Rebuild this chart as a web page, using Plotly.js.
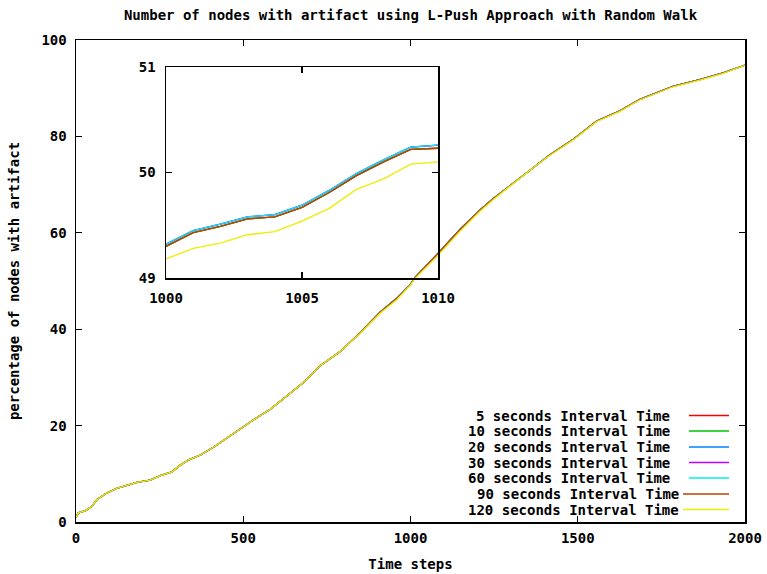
<!DOCTYPE html>
<html>
<head>
<meta charset="utf-8">
<script src="https://cdn.plot.ly/plotly-3.0.1.min.js"></script>
<style>html,body{margin:0;padding:0;background:#fff;}#chart{width:767px;height:574px;}</style>
</head>
<body>
<div id="chart"></div>
<script>
// ---- data ----
const seriesNames = [
  "5 seconds Interval Time",
  "10 seconds Interval Time",
  "20 seconds Interval Time",
  "30 seconds Interval Time",
  "60 seconds Interval Time",
  "90 seconds Interval Time",
  "120 seconds Interval Time"
];
const seriesColors = ["#ff0000", "#00c000", "#0080ff", "#c000ff", "#00eeee", "#c04000", "#eeee00"];

// main plot: time steps
const mainX = [0, 7, 27, 47, 62, 92, 122, 157, 182, 222, 252, 287, 312, 337, 372, 411, 451, 499, 531, 581,
  631, 681, 730, 789, 849, 909, 959, 1000, 1013, 1078, 1148, 1207, 1248, 1307, 1357, 1417, 1487, 1557,
  1626, 1686, 1785, 1865, 1935, 2000];
// 120 s curve (drawn on top, yellow)
const mainY120 = [1.0, 1.9, 2.3, 3.2, 4.6, 6.0, 7.0, 7.7, 8.2, 8.7, 9.6, 10.4, 11.8, 12.9, 13.9, 15.5, 17.4, 19.8, 21.2, 23.4,
  26.3, 29.0, 32.4, 35.3, 39.1, 43.3, 46.1, 49.2, 50.5, 55.0, 60.3, 64.4, 66.9, 70.2, 73.0, 76.1, 79.3, 83.1,
  85.2, 87.6, 90.3, 91.7, 93.1, 94.8];
// other intervals (nearly identical, slightly higher around t=900..1300)
const mainYOthers = [1.0, 1.9, 2.3, 3.2, 4.6, 6.0, 7.0, 7.7, 8.2, 8.7, 9.6, 10.4, 11.8, 12.9, 13.9, 15.5, 17.4, 19.8, 21.2, 23.4,
  26.3, 29.0, 32.4, 35.3, 39.2, 43.5, 46.4, 49.3, 50.7, 55.4, 60.7, 64.7, 67.1, 70.3, 73.1, 76.2, 79.4, 83.2,
  85.3, 87.7, 90.4, 91.8, 93.2, 94.8];

// inset: zoom on t = 1000..1010
const insetX = [1000, 1001, 1002, 1003, 1004, 1005, 1006, 1007, 1008, 1009, 1010];
const insetYUpper = [49.32, 49.45, 49.51, 49.58, 49.60, 49.69, 49.83, 49.99, 50.12, 50.24, 50.26]; // 20, 30, 60 s
const insetYLower = [49.30, 49.43, 49.49, 49.56, 49.58, 49.67, 49.81, 49.97, 50.10, 50.22, 50.23]; // 5, 10, 90 s
const insetY120 = [49.18, 49.28, 49.33, 49.41, 49.44, 49.54, 49.66, 49.84, 49.94, 50.08, 50.10];     // 120 s

const mainTicksX = [0, 500, 1000, 1500, 2000];
const mainTicksY = [0, 20, 40, 60, 80, 100];
const insetTicksX = [1000, 1005, 1010];
const insetTicksY = [49, 50, 51];

// ---- build ----
const FONT = {family: "DejaVu Sans Mono, monospace", size: 14, color: "#000", weight: 700};
const upperGroup = [false, false, true, true, true, false, false];
const traces = [];
seriesNames.forEach((n, i) => {
  traces.push({
    x: mainX, y: (i === 6 ? mainY120 : mainYOthers), type: "scatter", mode: "lines",
    name: n, line: {color: seriesColors[i], width: 1.3}, showlegend: false, xaxis: "x", yaxis: "y"
  });
});
seriesNames.forEach((n, i) => {
  traces.push({
    x: insetX, y: (i === 6 ? insetY120 : (upperGroup[i] ? insetYUpper : insetYLower)), type: "scatter", mode: "lines",
    name: n, line: {color: seriesColors[i], width: 1.3}, showlegend: false, xaxis: "x2", yaxis: "y2"
  });
});

// plot area in pixels
const L = 76, R = 745, T = 40, B = 522, W = 767, H = 574;
const px2x = p => (p - L) / (R - L);
const px2y = p => (B - p) / (B - T);

const axisCommon = {
  showgrid: false, zeroline: false, showline: true, linecolor: "#000", linewidth: 1.5,
  mirror: "ticks", ticks: "inside", ticklen: 6, tickwidth: 1.2, tickcolor: "#000",
  tickfont: FONT, fixedrange: true
};

const rowsY = [415.5, 431, 447, 462.5, 478, 494, 509.5];
const textRight = [672, 672, 672, 672, 672, 681, 681];
const lineStart = [689, 689, 689, 689, 689, 683, 683];
const annotations = [], shapes = [];
seriesNames.forEach((n, i) => {
  annotations.push({
    xref: "paper", yref: "paper", x: px2x(textRight[i]), y: px2y(rowsY[i]),
    xanchor: "right", yanchor: "middle", text: n, showarrow: false, font: FONT
  });
  shapes.push({
    type: "line", xref: "paper", yref: "paper",
    x0: px2x(lineStart[i]), x1: px2x(729), y0: px2y(rowsY[i]), y1: px2y(rowsY[i]),
    line: {color: seriesColors[i], width: 1.5}
  });
});

const layout = {
  width: W, height: H,
  margin: {l: L, r: W - R, t: T, b: H - B, pad: 0},
  paper_bgcolor: "#fff", plot_bgcolor: "rgba(0,0,0,0)",
  showlegend: false,
  title: {text: "Number of nodes with artifact using L-Push Approach with Random Walk",
    font: FONT, x: 0.5, xref: "paper", xanchor: "center", y: 1 - 15 / H, yanchor: "middle"},
  xaxis: Object.assign({}, axisCommon, {
    domain: [0, 1], range: [0, 2000], tickvals: mainTicksX, ticktext: mainTicksX.map(String),
    ticklabelstandoff: 3,
    title: {text: "Time steps", font: FONT, standoff: 14}, anchor: "y"
  }),
  yaxis: Object.assign({}, axisCommon, {
    domain: [0, 1], range: [0, 100], tickvals: mainTicksY, ticktext: mainTicksY.map(String),
    ticklabelstandoff: 5,
    title: {text: "percentage of nodes with artifact", font: FONT, standoff: 18}, anchor: "x"
  }),
  xaxis2: Object.assign({}, axisCommon, {
    domain: [px2x(166), px2x(438)], range: [1000, 1010], tickvals: insetTicksX,
    ticktext: insetTicksX.map(String), ticklabelstandoff: 7, anchor: "y2"
  }),
  yaxis2: Object.assign({}, axisCommon, {
    domain: [px2y(278), px2y(67)], range: [49, 51], tickvals: insetTicksY,
    ticktext: insetTicksY.map(String), ticklabelstandoff: 6, anchor: "x2"
  }),
  annotations: annotations,
  shapes: shapes
};

Plotly.newPlot("chart", traces, layout, {displayModeBar: false, staticPlot: true});
</script>
</body>
</html>
